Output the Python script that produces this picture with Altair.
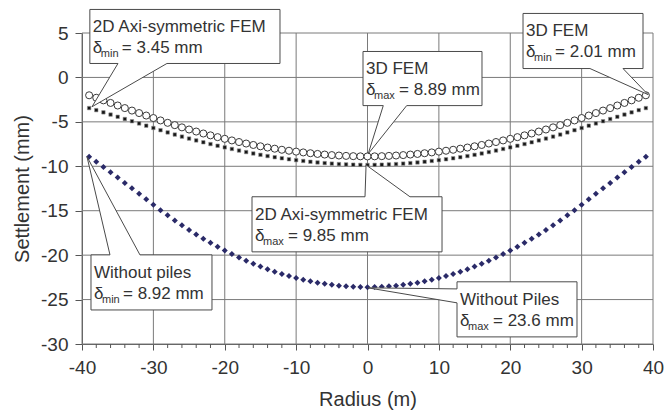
import altair as alt
import pandas as pd

# ---------------- data ----------------
radius = list(range(-39, 40))

fem3d = [-2.01, -2.29, -2.58, -2.87, -3.16, -3.45, -3.73, -4.01, -4.29, -4.57,
         -4.84, -5.11, -5.37, -5.62, -5.86, -6.09, -6.31, -6.52, -6.72, -6.91,
         -7.09, -7.27, -7.44, -7.60, -7.75, -7.89, -8.02, -8.14, -8.25, -8.35,
         -8.44, -8.53, -8.61, -8.68, -8.74, -8.79, -8.83, -8.86, -8.88,
         -8.89, -8.88, -8.86, -8.83, -8.79, -8.74, -8.68, -8.61, -8.53, -8.44,
         -8.35, -8.25, -8.14, -8.02, -7.89, -7.75, -7.60, -7.44, -7.27, -7.09,
         -6.91, -6.72, -6.52, -6.31, -6.09, -5.86, -5.62, -5.37, -5.11, -4.84,
         -4.57, -4.29, -4.01, -3.73, -3.45, -3.16, -2.87, -2.58, -2.29, -2.01]

fem2d = [-3.45, -3.68, -3.93, -4.18, -4.43, -4.68, -4.93, -5.18, -5.43, -5.69,
         -5.94, -6.19, -6.43, -6.66, -6.88, -7.09, -7.30, -7.50, -7.69, -7.87,
         -8.05, -8.23, -8.40, -8.56, -8.71, -8.85, -8.98, -9.10, -9.21, -9.31,
         -9.40, -9.49, -9.57, -9.64, -9.70, -9.75, -9.79, -9.82, -9.84,
         -9.85, -9.84, -9.82, -9.79, -9.75, -9.70, -9.64, -9.57, -9.49, -9.40,
         -9.31, -9.21, -9.10, -8.98, -8.85, -8.71, -8.56, -8.40, -8.23, -8.05,
         -7.87, -7.69, -7.50, -7.30, -7.09, -6.88, -6.66, -6.43, -6.19, -5.94,
         -5.69, -5.43, -5.18, -4.93, -4.68, -4.43, -4.18, -3.93, -3.68, -3.45]

no_piles = [-8.92, -9.50, -10.09, -10.68, -11.27, -11.87, -12.48, -13.09, -13.71, -14.33,
            -14.94, -15.52, -16.09, -16.64, -17.16, -17.67, -18.15, -18.61, -19.06, -19.48,
            -19.88, -20.26, -20.62, -20.96, -21.28, -21.58, -21.86, -22.12, -22.35, -22.57,
            -22.77, -22.94, -23.10, -23.23, -23.34, -23.44, -23.51, -23.56, -23.59,
            -23.60, -23.59, -23.56, -23.51, -23.44, -23.34, -23.23, -23.10, -22.94, -22.77,
            -22.57, -22.35, -22.12, -21.86, -21.58, -21.28, -20.96, -20.62, -20.26, -19.88,
            -19.48, -19.06, -18.61, -18.15, -17.67, -17.16, -16.64, -16.09, -15.52, -14.94,
            -14.33, -13.71, -13.09, -12.48, -11.87, -11.27, -10.68, -10.09, -9.50, -8.92]

assert len(radius) == len(fem3d) == len(fem2d) == len(no_piles)

x_ticks = [-40, -30, -20, -10, 0, 10, 20, 30, 40]
x_minor = [v for v in range(-38, 40, 2) if v % 10 != 0]
y_ticks = [-30, -25, -20, -15, -10, -5, 0, 5]

# annotation callouts: box (left, right, top, bottom) in data units, tail side, tail base, tip
ann_title = ["2D Axi-symmetric FEM", "3D FEM", "3D FEM",
             "2D Axi-symmetric FEM", "Without piles", "Without Piles"]
ann_sub = ["min", "max", "min", "max", "min", "max"]
ann_value = ["= 3.45 mm", "= 8.89 mm", "= 2.01 mm", "= 9.85 mm", "= 8.92 mm", "= 23.6 mm"]
ann_box = [(-38.9, -12.26, 7.65, 1.57), (-0.63, 16.04, 2.92, -3.17), (21.79, 38.6, 7.2, 1.0),
           (-16.18, 10.44, -13.43, -19.63), (-38.74, -21.79, -19.97, -26.17), (12.54, 29.35, -23.0, -29.2)]
ann_side = ["bottom", "bottom", "bottom", "top", "top", "left"]
ann_base = [(-34.96, -28.1), (2.21, 5.49), (31.17, 35.8), (-0.35, 5.95), (-36.08, -31.88), (-23.8, -25.37)]
ann_tip = [(-38.6, -3.3), (0.1, -8.6), (39.3, -1.93), (-0.2, -9.85), (-39.3, -8.92), (0.07, -23.68)]

# ---------------- layout constants ----------------
W, H = 571, 311
XU = 80 / W     # data units per pixel (x)
YU = 35 / H     # data units per pixel (y)
FONT = "Liberation Sans"
TXT = "#333333"
GRID = "#7a7a7a"

pts = pd.DataFrame({"r": radius, "fem3d": fem3d, "fem2d": fem2d, "nopiles": no_piles})
minor = pd.DataFrame({"m": x_minor})
xgrid = pd.DataFrame({"g": x_ticks})
ygrid = pd.DataFrame({"g": y_ticks})

poly_rows = []
text_rows = []
for i in range(len(ann_title)):
    x0, x1, yt, yb = ann_box[i]
    b1, b2 = ann_base[i]
    tx, ty = ann_tip[i]
    if ann_side[i] == "bottom":
        seq = [(x0, yt), (x1, yt), (x1, yb), (b2, yb), (tx, ty), (b1, yb), (x0, yb), (x0, yt)]
    elif ann_side[i] == "top":
        seq = [(x0, yt), (b1, yt), (tx, ty), (b2, yt), (x1, yt), (x1, yb), (x0, yb), (x0, yt)]
    else:
        seq = [(x0, yt), (x1, yt), (x1, yb), (x0, yb), (x0, b2), (tx, ty), (x0, b1), (x0, yt)]
    for k, (px, py) in enumerate(seq):
        poly_rows.append({"id": i, "ord": k, "x": px, "y": py})
    lx = x0 + 3 * XU
    y1 = yt - 23 * YU
    y2 = yt - 44 * YU
    sub_w = 18 if ann_sub[i] == "min" else 22
    text_rows.append({"x": lx, "y": y1, "t": ann_title[i], "kind": "title"})
    text_rows.append({"x": lx, "y": y2, "t": "δ", "kind": "delta"})
    text_rows.append({"x": lx + 8 * XU, "y": y2 - 4 * YU, "t": ann_sub[i], "kind": "sub"})
    text_rows.append({"x": lx + (8 + sub_w + 3) * XU, "y": y2, "t": ann_value[i], "kind": "value"})

poly = pd.DataFrame(poly_rows)
texts = pd.DataFrame(text_rows)

xs = alt.Scale(domain=[-40, 40], nice=False, zero=False)
ys = alt.Scale(domain=[-30, 5], nice=False, zero=False)

x_axis = alt.Axis(values=x_ticks, title="Radius (m)", grid=False, tickSize=6, tickColor="#555",
                  domainColor="#555", labelExpr="'' + datum.value",
                  labelFont=FONT, labelFontSize=19, labelColor=TXT, labelPadding=8,
                  titleFont=FONT, titleFontSize=20, titleColor=TXT, titleFontWeight="normal",
                  titlePadding=12, labelFlush=False)
y_axis = alt.Axis(values=y_ticks, title="Settlement (mm)", grid=False, tickSize=7, tickColor="#555",
                  domainColor="#555", labelExpr="'' + datum.value",
                  labelFont=FONT, labelFontSize=19, labelColor=TXT, labelPadding=7,
                  titleFont=FONT, titleFontSize=20, titleColor=TXT, titleFontWeight="normal",
                  titlePadding=8, labelFlush=False)


def X(field):
    return alt.X(field, scale=xs, axis=x_axis)


def Y(field):
    return alt.Y(field, scale=ys, axis=y_axis)


base = alt.Chart(pts)

grid_v = alt.Chart(xgrid).mark_rule(color=GRID, strokeWidth=1).encode(x=X("g:Q"))
grid_h = alt.Chart(ygrid).mark_rule(color=GRID, strokeWidth=1).encode(y=Y("g:Q"))

no_pile_layer = base.mark_point(shape="diamond", filled=True, size=36, color="#2a2a68", opacity=1).encode(
    x=X("r:Q"), y=Y("nopiles:Q"),
)
fem2d_layer = base.mark_point(shape="square", filled=True, size=12, color="#151515",
                              stroke="#909090", strokeWidth=0.6, opacity=1).encode(
    x=X("r:Q"), y=Y("fem2d:Q"),
)
fem3d_layer = base.mark_point(shape="circle", filled=True, size=50, fill="white",
                              stroke="#3a3a3a", strokeWidth=1, opacity=1).encode(
    x=X("r:Q"), y=Y("fem3d:Q"),
)

minor_ticks = alt.Chart(minor).mark_rule(color="#555", strokeWidth=1).encode(
    x=X("m:Q"), y=alt.value(H), y2=alt.value(H + 4),
)

callouts = alt.Chart(poly).mark_line(fill="white", stroke="#4a4a4a", strokeWidth=1,
                                     interpolate="linear").encode(
    x=X("x:Q"), y=Y("y:Q"),
    order="ord:Q",
    detail="id:N",
)


def text_layer(kind, size):
    return alt.Chart(texts).transform_filter(alt.datum.kind == kind).mark_text(
        align="left", baseline="alphabetic", font=FONT, fontSize=size, color=TXT
    ).encode(
        x=X("x:Q"), y=Y("y:Q"),
        text="t:N",
    )


chart = alt.layer(
    grid_v, grid_h, minor_ticks, no_pile_layer, fem2d_layer, fem3d_layer, callouts,
    text_layer("title", 17), text_layer("delta", 17), text_layer("sub", 11), text_layer("value", 17),
).properties(
    width=W, height=H,
    autosize=alt.AutoSizeParams(type="none"),
    padding={"left": 82, "top": 33, "right": 12, "bottom": 70},
    background="white",
).configure_view(stroke=None)

chart.save("out.html", embed_options={"renderer": "svg", "actions": False})
